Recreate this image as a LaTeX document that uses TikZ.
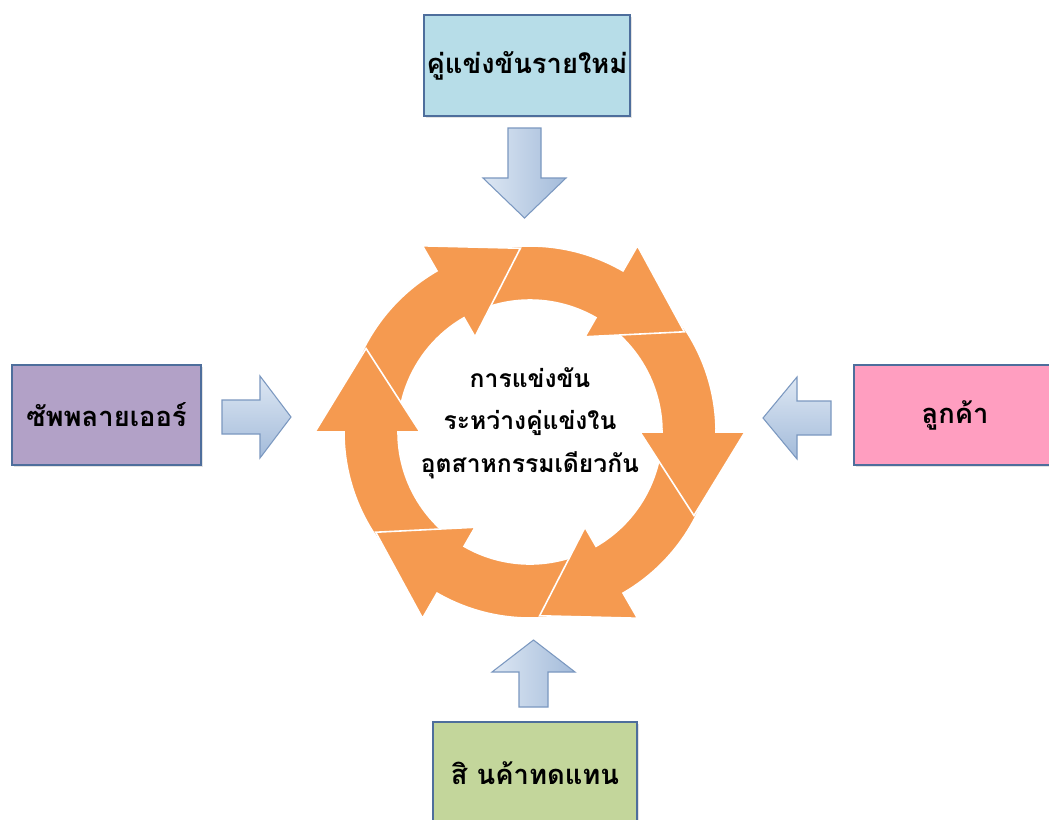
\documentclass[tikz,border=0pt]{standalone}
\usepackage{fontspec}
\newfontfamily\thaifont[Script=Thai]{Loma}
\usetikzlibrary{shadows}
\definecolor{ringorange}{HTML}{F59A50}
\definecolor{boxedge}{HTML}{4E6E9C}
\definecolor{topfill}{HTML}{B7DDE8}
\definecolor{leftfill}{HTML}{B2A1C7}
\definecolor{rightfill}{HTML}{FF9EC0}
\definecolor{botfill}{HTML}{C3D69B}
\definecolor{arrowedge}{HTML}{7B98C0}
\definecolor{arrowlight}{HTML}{DDE7F3}
\definecolor{arrowdark}{HTML}{A3BBDA}
\begin{document}
\begin{tikzpicture}[x=0.75pt,y=-0.75pt,
  factorbox/.style={draw=boxedge, line width=0.9pt, inner sep=0pt,
    font=\thaifont\bfseries\fontsize{20.5}{25}\selectfont,
    drop shadow={opacity=0.22, shadow xshift=1.5pt, shadow yshift=-1.5pt}},
  blockarrow/.style={draw=arrowedge, line width=0.8pt, line join=miter},
  vshade/.style={left color=arrowlight, right color=arrowdark},
  hshade/.style={top color=arrowlight, bottom color=arrowdark},
  ringarrow/.style={fill=ringorange, draw=white, line width=1.2pt, line join=miter},
  coretext/.style={align=center, font=\thaifont\bfseries\fontsize{18.5}{32}\selectfont}
]
\fill[white] (0,0) rectangle (1049,819);
\clip (0,0) rectangle (1049,819);

% factor boxes
\node[factorbox, fill=topfill, minimum width=154.5pt, minimum height=75.75pt] (newcomer) at (527,65.5) {คู่แข่งขันรายใหม่};
\node[factorbox, fill=leftfill, minimum width=141.75pt, minimum height=75pt] (supplier) at (106.5,415) {ซัพพลายเออร์};
\node[factorbox, fill=rightfill, minimum width=151.5pt, minimum height=75pt] (customer) at (955,415) {ลูกค้า};
\node[factorbox, fill=botfill, minimum width=153pt, minimum height=76.5pt] (substitute) at (535,773) {สิ นค้าทดแทน};

% block arrows
\draw[blockarrow, vshade] (508,128) -- (541,128) -- (541,178) -- (566,178) -- (524.5,218) -- (483,178) -- (508,178) -- cycle;
\draw[blockarrow, hshade] (222,400) -- (260,400) -- (260,376) -- (291,417) -- (260,458) -- (260,434) -- (222,434) -- cycle;
\draw[blockarrow, hshade] (831,401) -- (797,401) -- (797,377) -- (763,418) -- (797,459) -- (797,435) -- (831,435) -- cycle;
\draw[blockarrow, vshade] (519,707) -- (519,672) -- (492,672) -- (533.5,640) -- (575,672) -- (548,672) -- (548,707) -- cycle;

% cycle ring
\begin{scope}[shift={(530,432)}, yscale=-1]
  \foreach \a in {0,60,120,180,240,300} {
    \path[ringarrow] (\a+60:186) arc[start angle=\a+60, end angle=\a, radius=186]
      -- (\a:215) -- (\a-27:184) -- (\a:110) -- (\a:132)
      arc[start angle=\a, end angle=\a+60, radius=132] -- cycle;
  }
  \begin{scope}
    \clip (0,0) -- (1:250) arc[start angle=1, end angle=-45, radius=250] -- cycle;
    \path[ringarrow] (60:186) arc[start angle=60, end angle=0, radius=186]
      -- (0:215) -- (-27:184) -- (0:110) -- (0:132)
      arc[start angle=0, end angle=60, radius=132] -- cycle;
  \end{scope}
\end{scope}

\node[coretext] (core) at (530,423) {การแข่งขัน\\ระหว่างคู่แข่งใน\\อุตสาหกรรมเดียวกัน};
\end{tikzpicture}
\end{document}
